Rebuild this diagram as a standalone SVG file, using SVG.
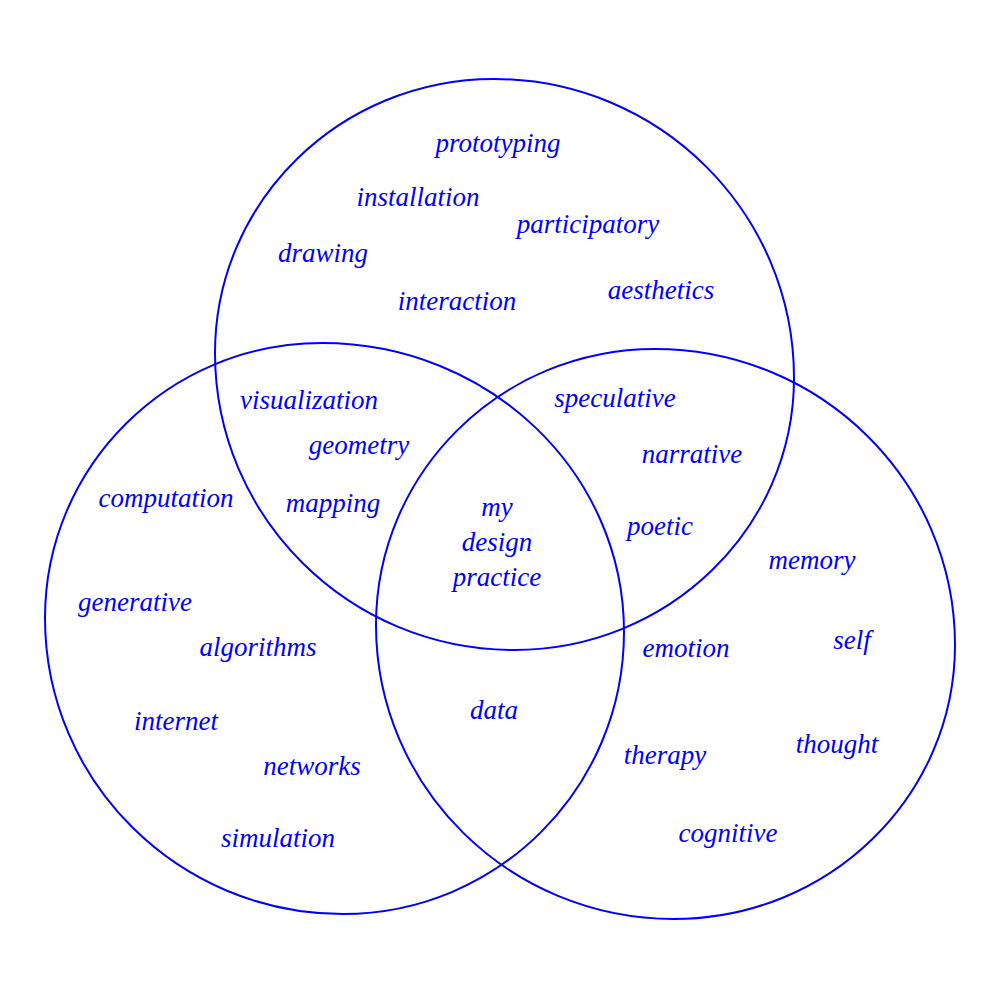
<svg xmlns="http://www.w3.org/2000/svg" width="1000" height="1000" viewBox="0 0 1000 1000">
<style>
.set{fill:none;stroke:#0000ff;stroke-width:2}
text{font-family:"Liberation Serif","DejaVu Serif",serif;font-style:italic;font-size:27px;fill:#0000ff;text-anchor:middle}
</style>
<rect width="1000" height="1000" fill="#ffffff"/>
<g id="sets">
<path id="set-top" class="set" d="M494,79 C659.7,79 794,212.9 794,378 C794,528.2 668.6,650 514,650 C348.9,650 215,517 215,353 C215,201.7 339.9,79 494,79 Z"/>
<path id="set-left" class="set" d="M322,343 C488.8,343 624,472.4 624,632 C624,787.7 498.2,914 343,914 C178.4,914 45,781.5 45,618 C45,466.1 169,343 322,343 Z"/>
<path id="set-right" class="set" d="M655,349 C820.7,349 955,481.5 955,645 C955,796.3 829.2,919 674,919 C509.4,919 376,787.4 376,625 C376,472.6 500.9,349 655,349 Z"/>
</g>
<g id="labels">
<text x="498" y="152">prototyping</text>
<text x="418" y="206">installation</text>
<text x="588" y="233">participatory</text>
<text x="323" y="262">drawing</text>
<text x="457" y="310">interaction</text>
<text x="661" y="299">aesthetics</text>
<text x="309" y="409">visualization</text>
<text x="359" y="454">geometry</text>
<text x="333" y="512">mapping</text>
<text x="615" y="407">speculative</text>
<text x="692" y="463">narrative</text>
<text x="660" y="535">poetic</text>
<text x="497" y="516">my</text>
<text x="497" y="551">design</text>
<text x="497" y="586">practice</text>
<text x="166" y="507">computation</text>
<text x="135" y="611">generative</text>
<text x="258" y="656">algorithms</text>
<text x="176" y="730">internet</text>
<text x="312" y="775">networks</text>
<text x="278" y="847">simulation</text>
<text x="494" y="719">data</text>
<text x="812" y="569">memory</text>
<text x="852" y="649">self</text>
<text x="686" y="657">emotion</text>
<text x="837" y="753">thought</text>
<text x="665" y="764">therapy</text>
<text x="728" y="842">cognitive</text>
</g>
</svg>
